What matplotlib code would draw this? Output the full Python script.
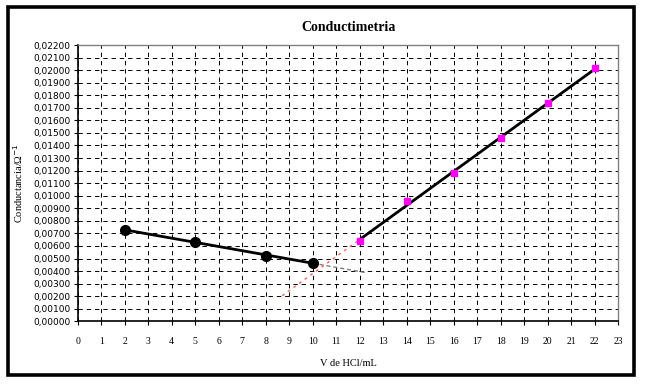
import matplotlib.pyplot as plt
import numpy as np
from matplotlib.patches import Rectangle
from matplotlib.ticker import FuncFormatter, MultipleLocator

# black series (before equivalence point)
v1 = [2, 5, 8, 10]
k1 = [0.00727, 0.00634, 0.00520, 0.00467]

# magenta series (after equivalence point)
v2 = [12, 14, 16, 18, 20, 22]
k2 = [0.00637, 0.00958, 0.01178, 0.01457, 0.01736, 0.02014]

# trendline forecast ends
fwd_end = 12.3
back_end = 8.7

fig = plt.figure(figsize=(6.45, 3.84), dpi=100)
ax = fig.add_axes([0.1205, 0.1633, 0.8381, 0.7195])

ax.set_xlim(0, 23)
ax.set_ylim(0, 0.022)
ax.xaxis.set_major_locator(MultipleLocator(1))
ax.yaxis.set_major_locator(MultipleLocator(0.001))
ax.yaxis.set_major_formatter(FuncFormatter(lambda v, p: ('%.5f' % v).replace('.', ',')))
ax.grid(True, color='black', linestyle=(0, (4.5, 4)), linewidth=0.7)
ax.set_axisbelow(True)

for s in ['top', 'right']:
    ax.spines[s].set_color('#808080')
    ax.spines[s].set_linewidth(1)
for s in ['left', 'bottom']:
    ax.spines[s].set_linewidth(1.2)

ax.tick_params(labelsize=6.5, length=3, width=0.8, pad=2)
ax.tick_params(axis='x', pad=8)
for lbl in ax.get_xticklabels():
    lbl.set_family('Liberation Serif')
    lbl.set_fontsize(7)

# fits
p1 = np.polyfit(v1, k1, 1)
p2 = np.polyfit(v2, k2, 1)

xa = np.array([v1[0], v1[-1]])
ax.plot(xa, np.polyval(p1, xa), color='black', lw=2, zorder=3)
xa_f = np.array([v1[-1], fwd_end])
ax.plot(xa_f, np.polyval(p1, xa_f), color='#808080', lw=1, ls=(0, (3, 2)), zorder=3)

xb = np.array([v2[0], v2[-1]])
ax.plot(xb, np.polyval(p2, xb), color='black', lw=2, zorder=3)
xb_f = np.array([back_end, v2[0]])
ax.plot(xb_f, np.polyval(p2, xb_f), color='#ff6060', lw=1, ls=(0, (2, 3)), zorder=3)

ax.plot(v1, k1, 'o', color='black', ms=7, zorder=4)
ax.plot(v2, k2, 's', color='#ff00ff', ms=5, zorder=4)

fig.text(0.54, 0.928, 'Conductimetria', ha='center', va='center',
         family='Liberation Serif', fontweight='bold', fontsize=10)
ax.set_xlabel('V de HCl/mL', family='Liberation Serif', fontsize=7.5, labelpad=10)
ax.set_ylabel('Conductancia/Ω$^{-1}$', family='Liberation Serif', fontsize=7.5, labelpad=6)

fig.patches.append(Rectangle((8 / 645, 1 - 375 / 384), 626 / 645, 368 / 384,
                             transform=fig.transFigure, fill=False,
                             edgecolor='black', lw=2.6))

fig.savefig('out.png', dpi=100)
